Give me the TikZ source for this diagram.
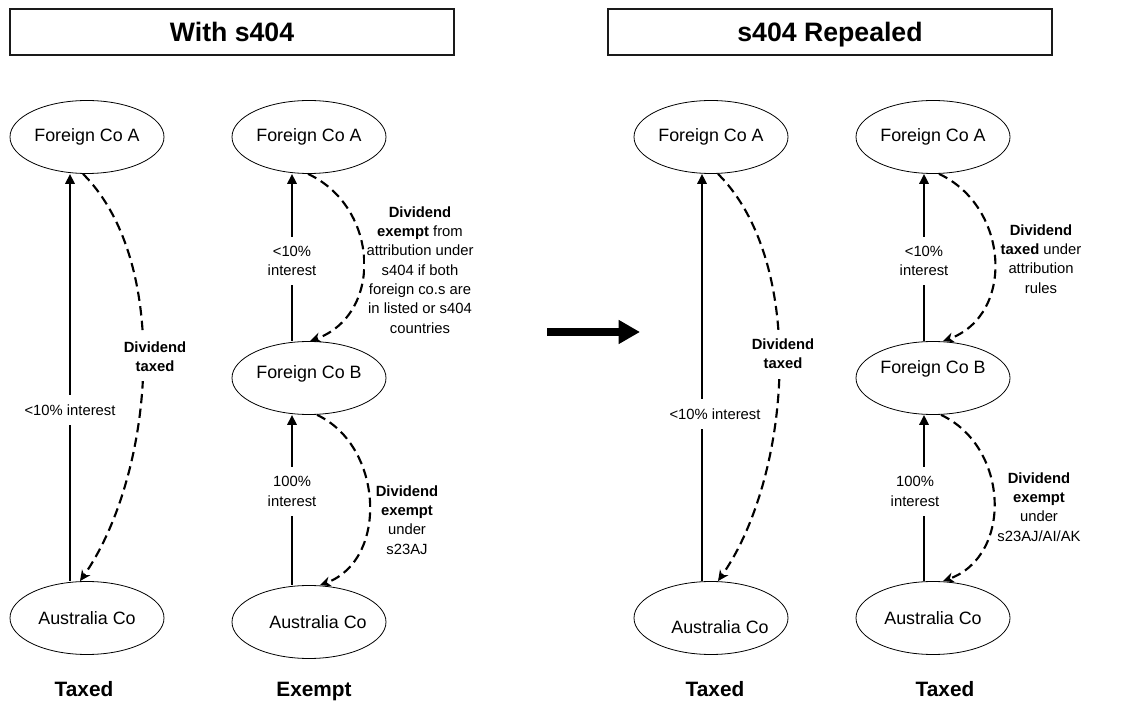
\documentclass[tikz,border=0pt]{standalone}
\usepackage{fontspec}
\setmainfont{Liberation Sans}
\usepackage{xcolor}
\usepackage{tikz}
\usetikzlibrary{arrows.meta,shapes.geometric}
\definecolor{ink}{HTML}{000000}
\definecolor{paper}{HTML}{FFFFFF}
\definecolor{frame}{HTML}{1A1A1A}
\tikzset{
  titlebox/.style={draw=frame, line width=1pt, fill=paper, minimum width=333pt, minimum height=34.5pt, text height=14.5pt, text depth=0pt, font=\fontsize{20}{24}\selectfont\bfseries},
  coell/.style={draw=ink, line width=0.6pt, ellipse, minimum width=115.5pt, minimum height=54.75pt, inner sep=0pt, font=\fontsize{13.4}{16}\selectfont},
  own/.style={draw=ink, line width=1.5pt, -{Triangle[length=7.5pt,width=7pt]}},
  div/.style={draw=ink, line width=1.6pt, dash pattern=on 7pt off 4pt, -{Stealth[length=8pt,width=7.5pt,inset=2.5pt]}},
  pct/.style={fill=paper, inner xsep=1pt, inner ysep=7pt, align=center, font=\fontsize{11.1}{14.5}\selectfont},
  note/.style={fill=paper, inner xsep=1pt, inner ysep=7pt, align=center, font=\fontsize{11.1}{14.5}\selectfont},
  verdict/.style={text height=11.5pt, text depth=0pt, font=\fontsize{15.6}{19}\selectfont\bfseries},
  bigarrow/.style={draw=ink, line width=6pt, -{Triangle[length=16pt,width=17pt]}}
}
% text set a little off the centre of its ellipse
\newcommand{\offtext}[3]{\raisebox{#2}[\height][\depth]{\rlap{\hspace*{#1}#3}\phantom{#3}}}

\begin{document}
\begin{tikzpicture}[x=0.75pt, y=0.75pt]
  \useasboundingbox (0,0) rectangle (1132,704);

  % headings
  \node[titlebox] (withhd) at (232,672) {With s404};
  \node[titlebox] (rephd) at (830,672) {s404 Repealed};

  % companies, with s404
  \node[coell] (fa1) at (87,567) {Foreign Co A};
  \node[coell] (au1) at (87,86) {Australia Co};
  \node[coell] (fa2) at (309,567) {Foreign Co A};
  \node[coell] (fb2) at (309,326) {\offtext{0pt}{3pt}{Foreign Co B}};
  \node[coell] (au2) at (309,82) {\offtext{6.75pt}{0pt}{Australia Co}};

  % companies, s404 repealed
  \node[coell] (fa3) at (711,567) {Foreign Co A};
  \node[coell] (au3) at (711,86) {\offtext{6.75pt}{-6.75pt}{Australia Co}};
  \node[coell] (fa4) at (933,567) {Foreign Co A};
  \node[coell] (fb4) at (933,326) {\offtext{0pt}{6.75pt}{Foreign Co B}};
  \node[coell] (au4) at (933,86) {Australia Co};

  % interests held
  \draw[own] ([xshift=-12.75pt]au1.north) -- node[pct, pos=0.42] {<10\% interest} ([xshift=-12.75pt]fa1.south);
  \draw[own] ([xshift=-12.75pt]fb2.north) -- node[pct, pos=0.48] {<10\%\\interest} ([xshift=-12.75pt]fa2.south);
  \draw[own] ([xshift=-12.75pt]au2.north) -- node[pct, pos=0.55] {100\%\\interest} ([xshift=-12.75pt]fb2.south);
  \draw[own] ([xshift=-6.75pt]au3.north) -- node[pct, pos=0.41, xshift=9.75pt] {<10\% interest} ([xshift=-6.75pt]fa3.south);
  \draw[own] ([xshift=-6.75pt]fb4.north) -- node[pct, pos=0.48] {<10\%\\interest} ([xshift=-6.75pt]fa4.south);
  \draw[own] ([xshift=-6.75pt]au4.north) -- node[pct, pos=0.54, xshift=-6.75pt] {100\%\\interest} ([xshift=-6.75pt]fb4.south);

  % dividends paid
  \draw[div] ([xshift=-3pt]fa1.south) to[out=-45, in=55, looseness=0.8] ([xshift=-5.25pt]au1.north);
  \draw[div] ([xshift=-0.75pt]fa2.south) to[out=-25, in=20, looseness=1.2] ([xshift=0.75pt]fb2.north);
  \draw[div] ([xshift=6pt]fb2.south) to[out=-25, in=20, looseness=1.1] ([xshift=8.25pt]au2.north);
  \draw[div] ([xshift=5.25pt]fa3.south) to[out=-45, in=55, looseness=0.8] ([xshift=5.25pt]au3.north);
  \draw[div] ([xshift=4.5pt]fa4.south) to[out=-25, in=20, looseness=1.18] ([xshift=7.5pt]fb4.north);
  \draw[div] ([xshift=6pt]fb4.south) to[out=-25, in=20, looseness=1.15] ([xshift=7.5pt]au4.north);

  % dividend notes
  \node[note] (tax1) at (155,347) {\textbf{Dividend}\\\textbf{taxed}};
  \node[note] (exm2) at (420,434) {\textbf{Dividend}\\\textbf{exempt} from\\attribution under\\s404 if both\\foreign co.s are\\in listed or s404\\countries};
  \node[note] (exm2b) at (407,184) {\textbf{Dividend}\\\textbf{exempt}\\under\\s23AJ};
  \node[note] (tax3) at (783,350) {\textbf{Dividend}\\\textbf{taxed}};
  \node[note] (tax4) at (1041,445) {\textbf{Dividend}\\\textbf{taxed} under\\attribution\\rules};
  \node[note] (exm4) at (1039,197) {\textbf{Dividend}\\\textbf{exempt}\\under\\s23AJ/AI/AK};

  % outcomes
  \node[verdict] (out1) at (84,15) {Taxed};
  \node[verdict] (out2) at (314,15) {Exempt};
  \node[verdict] (out3) at (715,15) {Taxed};
  \node[verdict] (out4) at (945,15) {Taxed};

  % change of law
  \coordinate (go) at (547,372);
  \coordinate (stop) at (640,372);
  \draw[bigarrow] (go) -- (stop);
\end{tikzpicture}
\end{document}
